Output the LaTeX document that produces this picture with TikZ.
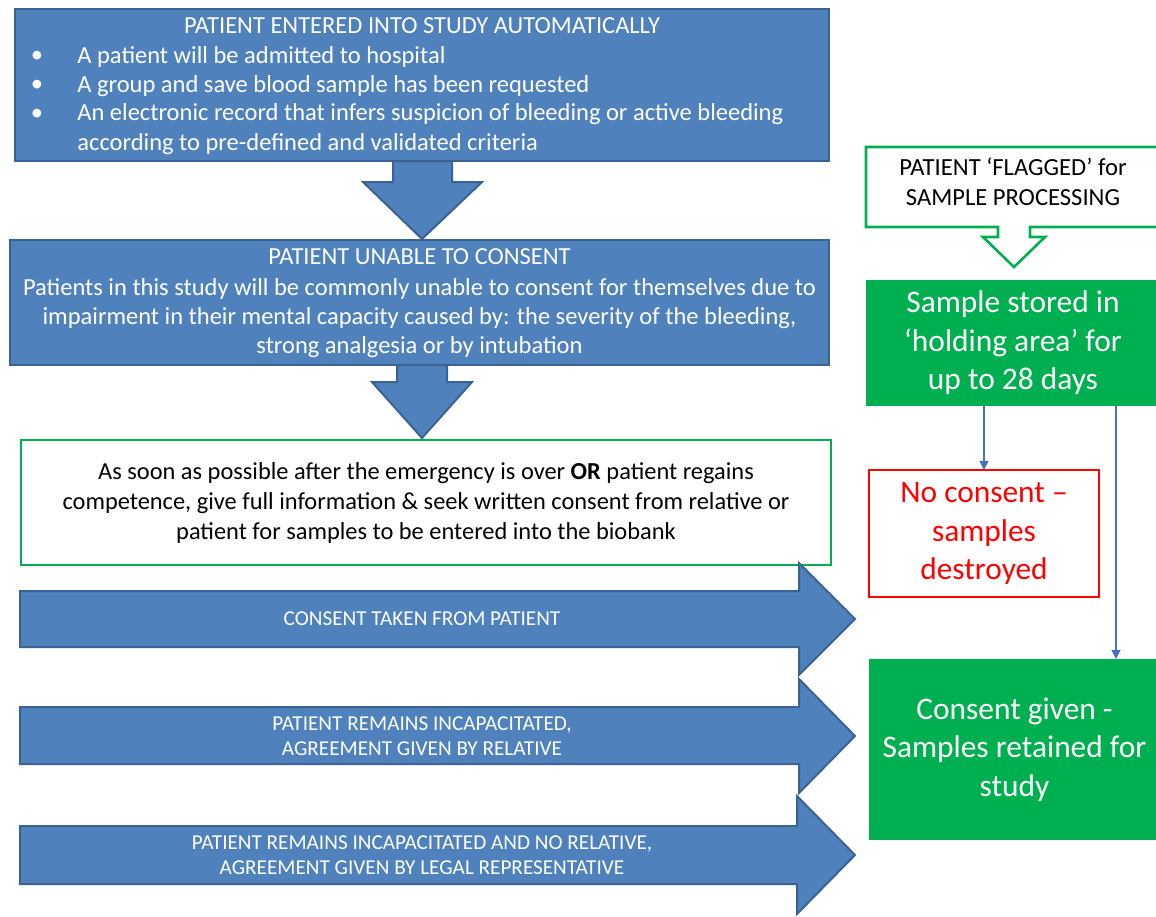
\documentclass[tikz,border=0pt]{standalone}
\usepackage{fontspec}
\setmainfont{Carlito}
\usetikzlibrary{arrows.meta}
\definecolor{bfill}{HTML}{4F81BD}
\definecolor{bdraw}{HTML}{3A6394}
\definecolor{gfill}{HTML}{00B050}
\definecolor{lblue}{HTML}{4472C4}
\definecolor{rred}{HTML}{FF0000}
\begin{document}
\begin{tikzpicture}[x=0.5pt,y=-0.5pt,
  bshape/.style={fill=bfill,draw=bdraw,line width=1pt,line join=miter},
  bbox/.style={bshape,inner sep=0,outer sep=0},
  btext/.style={text=white,inner sep=0,font=\fontsize{12.25}{14.6}\selectfont},
  atext/.style={text=white,inner sep=0,align=center,font=\fontsize{10.6}{12.2}\selectfont},
  wbox/.style={fill=white,draw=gfill,line width=1.4pt,inner sep=0,outer sep=0,align=center,
    font=\fontsize{12.2}{15}\selectfont},
  gbox/.style={fill=gfill,draw=none,inner sep=0,outer sep=0,align=center,text=white,
    font=\fontsize{15.7}{19.3}\selectfont},
  rbox/.style={fill=white,draw=rred,line width=0.6pt,inner sep=0,outer sep=0,align=center,text=rred,
    font=\fontsize{15.7}{19.3}\selectfont},
  conn/.style={draw=lblue,line width=0.6pt,-{Triangle[width=4.5pt,length=4.5pt]}}
]
\useasboundingbox (0,0) rectangle (1156,916);
\clip (0,0) rectangle (1156,916);

% top blue box
\node[bbox,minimum width=407pt,minimum height=76pt] (b1) at (422,85) {};
\node[btext] (b1t) at (422,26) {PATIENT ENTERED INTO STUDY AUTOMATICALLY};
\node[btext] (u1) at (37,57) {•};
\node[btext] (u2) at (37,86) {•};
\node[btext] (u3) at (37,115) {•};
\node[btext,anchor=west] (i1) at (77,57) {A patient will be admitted to hospital};
\node[btext,anchor=west] (i2) at (77,86) {A group and save blood sample has been requested};
\node[btext,anchor=west,align=left] (i3) at (77,129) {An electronic record that infers suspicion of bleeding or active bleeding\\according to pre-defined and validated criteria};

% second blue box
\node[bbox,minimum width=409.5pt,minimum height=62.5pt] (b2) at (419.5,302.5) {};
\node[btext] (b2t) at (419.5,257) {PATIENT UNABLE TO CONSENT};
\node[btext,align=center] (b2x) at (419.5,318) {Patients in this study will be commonly unable to consent for themselves due to\\impairment in their mental capacity caused by: the severity of the bleeding,\\strong analgesia or by intubation};

% down arrows
\draw[bshape] (393,161) -- (393,182) -- (363,182) -- (422,239) -- (482,182) -- (452,182) -- (452,161) -- cycle;
\draw[bshape] (397,365) -- (397,382) -- (372,382) -- (422,438) -- (472,382) -- (447,382) -- (447,365) -- cycle;

% consent info box
\node[wbox,minimum width=405pt,minimum height=62.5pt] (info) at (426,502.5) {As soon as possible after the emergency is over \textbf{OR} patient regains\\competence, give full information \& seek written consent from relative or\\patient for samples to be entered into the biobank};

% right-pointing arrows
\draw[bshape] (20,591) -- (799,591) -- (799,563) -- (855,619) -- (799,675) -- (799,647) -- (20,647) -- cycle;
\node[atext] (a1) at (422,619) {CONSENT TAKEN FROM PATIENT};
\draw[bshape] (20,707) -- (799,707) -- (799,679) -- (855,736) -- (799,793) -- (799,764) -- (20,764) -- cycle;
\node[atext] (a2) at (422,736) {PATIENT REMAINS INCAPACITATED,\\AGREEMENT GIVEN BY RELATIVE};
\draw[bshape] (20,826) -- (797,826) -- (797,796) -- (855,855) -- (797,914) -- (797,884) -- (20,884) -- cycle;
\node[atext] (a3) at (422,855) {PATIENT REMAINS INCAPACITATED AND NO RELATIVE,\\AGREEMENT GIVEN BY LEGAL REPRESENTATIVE};

% right column
\draw[fill=white,draw=gfill,line width=1.3pt,line join=miter] (866,147) -- (1170,147) -- (1170,227) -- (1030,227) -- (1030,237) -- (1045,237) -- (1014,267) -- (983,237) -- (998,237) -- (998,227) -- (866,227) -- cycle;
\node[inner sep=0,align=center,font=\fontsize{12.3}{15}\selectfont] (flag) at (1013,182) {PATIENT ‘FLAGGED’ for\\SAMPLE PROCESSING};

\node[gbox,minimum width=147pt,minimum height=63pt] (stored) at (1013,343) {Sample stored in\\‘holding area’ for\\up to 28 days};
\node[rbox,minimum width=115pt,minimum height=63.5pt] (nocons) at (984,533.5) {No consent –\\samples\\destroyed};
\node[gbox,minimum width=145.5pt,minimum height=90.5pt] (cons) at (1014.5,749.5) {Consent given -\\Samples retained for\\study};

\coordinate (tap) at ([xshift=51.5pt]stored.south);
\draw[conn] (stored.south -| nocons.north) -- (nocons.north);
\draw[conn] (tap) -- (tap |- cons.north);
\end{tikzpicture}
\end{document}
